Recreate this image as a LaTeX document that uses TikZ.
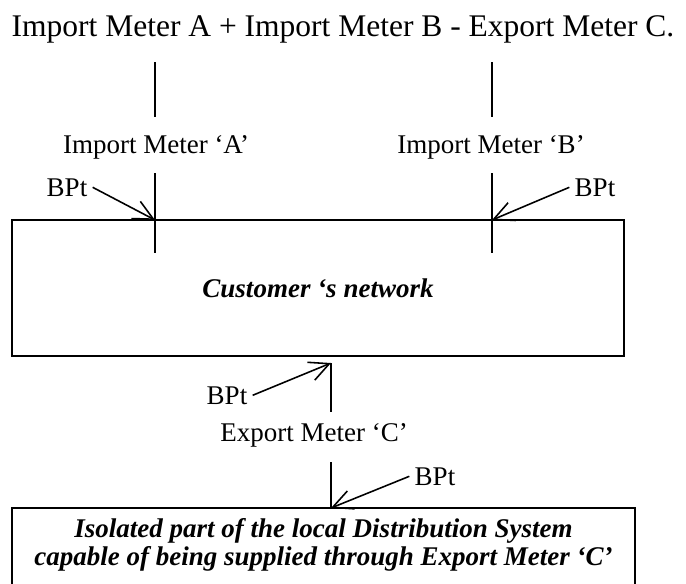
\documentclass[tikz,border=0pt]{standalone}
\usepackage{fontspec}
\setmainfont{Liberation Serif}
\usetikzlibrary{arrows.meta}
\begin{document}
\begin{tikzpicture}[x=0.4444pt,y=-0.4444pt,
  lbl/.style={font=\fontsize{12}{14}\selectfont, inner sep=0pt},
  ttl/.style={font=\fontsize{14}{16}\selectfont, inner sep=0pt},
  bpt/.style={lbl, inner xsep=2.2pt, inner ysep=0pt},
  netlbl/.style={font=\fontsize{12}{14}\selectfont\bfseries\itshape, inner sep=0pt},
  feeder/.style={line width=0.7pt},
  boxline/.style={line width=0.9pt},
  bparrow/.style={line width=0.7pt, -{Straight Barb[length=8.8pt,width=8.6pt]}}]
\useasboundingbox (0,0) rectangle (686,583);

% formula
\node[ttl, anchor=base] (title) at (343,36) {Import Meter A + Import Meter B - Export Meter C.};

% incoming feeders A and B
\draw[feeder] (155,62) -- (155,117);
\draw[feeder] (492,62) -- (492,117);
\node[lbl, anchor=base] (labA) at (156,153) {Import Meter  ‘A’};
\node[lbl, anchor=base] (labB) at (491,153) {Import Meter ‘B’};
\draw[feeder] (155,173) -- (155,253);
\draw[feeder] (492,173) -- (492,253);

% customer's network
\draw[boxline] (12,220) rectangle (624,356);
\node[netlbl] (net) at (318,288) {Customer ‘s network};

% boundary points on the import side
\coordinate (jA) at (155,220);
\coordinate (jB) at (492,220);
\node[bpt, anchor=base] (bptA) at (67,196) {BPt};
\node[bpt, anchor=base] (bptB) at (595,196) {BPt};
\draw[bparrow] (bptA.east) -- (jA);
\draw[bparrow] (bptB.west) -- (jB);

% export feeder C
\coordinate (jC) at (331,363);
\coordinate (jD) at (331,508);
\draw[feeder] (jC) -- (331,412);
\node[bpt, anchor=base] (bptC) at (227,404) {BPt};
\draw[bparrow] (bptC.east) -- (jC);
\node[lbl, anchor=base west] (labC) at (220,441) {Export Meter ‘C’};
\draw[feeder] (331,462) -- (jD);
\node[bpt, anchor=base] (bptD) at (435,485) {BPt};
\draw[bparrow] (bptD.west) -- (jD);

% isolated part of the distribution system
\draw[boxline] (12,508) rectangle (635,592);
\node[netlbl, anchor=base] (iso1) at (323.5,537) {Isolated part of the local Distribution System};
\node[netlbl, anchor=base] (iso2) at (323.5,565) {capable of being supplied through Export Meter ‘C’};
\end{tikzpicture}
\end{document}
